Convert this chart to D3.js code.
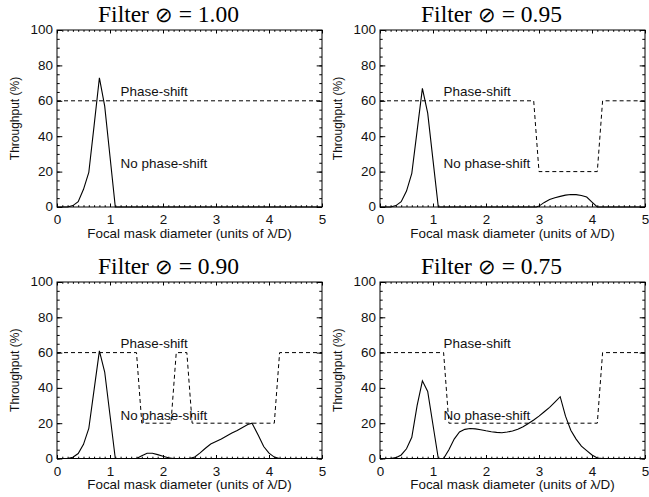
<!DOCTYPE html>
<html><head><meta charset="utf-8">
<script src="https://cdn.jsdelivr.net/npm/d3@7"></script>
<style>
body{margin:0;background:#fff}
svg{display:block}
.tick line{stroke:#000}
.domain{stroke:none}
</style>
</head><body>
<svg id="chart" width="649" height="497"></svg>
<script>
// Filter diameters shown in each panel title
const filterLabels = ["1.00", "0.95", "0.90", "0.75"];

// Throughput (%) vs focal mask diameter (λ/D), solid curves
const throughput100 = [[0,0],[0.2,0],[0.3,0.8],[0.4,3],[0.5,10],[0.6,19.5],[0.7,46],[0.8,73],[0.9,57],[1.0,28.5],[1.1,0],[5,0]];
const throughput095 = [[0,0],[0.2,0],[0.3,0.8],[0.4,3],[0.5,9],[0.6,19],[0.7,43],[0.8,67],[0.9,53],[1.0,26.5],[1.1,0],[2.95,0],[3.0,0.5],[3.1,2.6],[3.2,4.2],[3.3,5.2],[3.4,6],[3.5,6.7],[3.6,7.1],[3.7,7],[3.8,6.5],[3.9,5.6],[4.0,2.8],[4.1,0],[5,0]];
const throughput090 = [[0,0],[0.2,0],[0.3,0.7],[0.4,2.8],[0.5,8],[0.6,17],[0.7,39],[0.8,61],[0.9,49],[1.0,24.5],[1.1,0],[1.5,0],[1.6,1.6],[1.7,3],[1.8,3],[1.9,2.2],[2.0,1.3],[2.1,0.4],[2.2,0],[2.5,0],[2.6,0.9],[2.7,3.2],[2.8,5.8],[2.9,8.2],[3.0,9.6],[3.1,11],[3.2,12.8],[3.3,14.4],[3.4,15.9],[3.5,17.6],[3.6,19.3],[3.68,20],[3.8,13],[3.9,6.8],[4.0,3],[4.1,0.8],[4.2,0],[5,0]];
const throughput075 = [[0,0],[0.2,0],[0.3,0.5],[0.4,2],[0.5,5.5],[0.6,12],[0.7,30],[0.8,44],[0.9,38],[1.0,19],[1.1,0],[1.2,0],[1.3,5],[1.4,11],[1.5,15],[1.6,16.5],[1.7,17],[1.8,16.8],[1.9,16.3],[2.0,15.7],[2.1,15.2],[2.2,14.8],[2.3,14.6],[2.4,15],[2.5,15.6],[2.6,16.6],[2.7,18],[2.8,19.8],[2.9,21.8],[3.0,24],[3.1,26.5],[3.2,29],[3.3,32],[3.4,35],[3.5,24],[3.6,16],[3.7,11],[3.8,7],[3.9,4.5],[4.0,2],[4.1,0.3],[4.2,0],[5,0]];

// Phase-shift / no phase-shift regime, dashed curves
const phase100 = [[0,60],[5,60]];
const phase095 = [[0,60],[2.9,60],[3.0,20],[4.1,20],[4.2,60],[5,60]];
const phase090 = [[0,60],[1.5,60],[1.6,20],[2.15,20],[2.25,60],[2.45,60],[2.55,20],[4.1,20],[4.2,60],[5,60]];
const phase075 = [[0,60],[1.2,60],[1.3,20],[4.1,20],[4.2,60],[5,60]];

// Axis ticks
const xMajorTicks = [0, 1, 2, 3, 4, 5];
const yMajorTicks = [0, 20, 40, 60, 80, 100];

const throughputSeries = [throughput100, throughput095, throughput090, throughput075];
const phaseSeries = [phase100, phase095, phase090, phase075];

const svg = d3.select("#chart");
const sans = "'Liberation Sans', Arial, Helvetica, sans-serif";
const serif = "'Liberation Serif', 'Times New Roman', Times, serif";
const wide = 1.12; // horizontal stretch of the sans labels

const panels = [
  {left: 57,  top: 30,  width: 265, height: 177},
  {left: 380, top: 30,  width: 265, height: 177},
  {left: 57,  top: 282, width: 265, height: 176.5},
  {left: 380, top: 282, width: 265, height: 176.5}
];

// horizontal label placed at (px, py), stretched sideways
function label(g, px, py, txt, size, anchor) {
  g.append("text")
    .attr("transform", `translate(${px},${py}) scale(${wide},1)`)
    .attr("text-anchor", anchor || "start")
    .attr("font-family", sans).attr("font-size", size).attr("fill", "#111")
    .text(txt);
}

panels.forEach((p, i) => {
  const g = svg.append("g").attr("transform", `translate(${p.left},${p.top})`);
  const x = d3.scaleLinear().domain([0, 5]).range([0, p.width]);
  const y = d3.scaleLinear().domain([0, 100]).range([p.height, 0]);

  const xMinor = d3.range(0, 50.5, 1).map(v => v / 10);
  const yMinor = d3.range(0, 101, 5);
  const xMaj = 3.5, xMin = 1.8, yMaj = 5.3, yMin = 2.7;

  // bottom axis with labels
  g.append("g").attr("transform", `translate(0,${p.height})`)
    .call(d3.axisBottom(x).tickValues(xMinor).tickSize(-xMin).tickSizeOuter(0).tickFormat(""));
  g.append("g").attr("class", "lab").attr("transform", `translate(0,${p.height})`)
    .call(d3.axisBottom(x).tickValues(xMajorTicks).tickSize(-xMaj).tickSizeOuter(0).tickPadding(8.8).tickFormat(d3.format("d")));
  // top axis
  g.append("g").call(d3.axisTop(x).tickValues(xMinor).tickSize(-xMin).tickSizeOuter(0).tickFormat(""));
  g.append("g").call(d3.axisTop(x).tickValues(xMajorTicks).tickSize(-xMaj).tickSizeOuter(0).tickFormat(""));
  // left axis with labels
  g.append("g").call(d3.axisLeft(y).tickValues(yMinor).tickSize(-yMin).tickSizeOuter(0).tickFormat(""));
  g.append("g").attr("class", "lab")
    .call(d3.axisLeft(y).tickValues(yMajorTicks).tickSize(-yMaj).tickSizeOuter(0).tickPadding(3.6).tickFormat(d3.format("d")));
  // right axis
  g.append("g").attr("transform", `translate(${p.width},0)`)
    .call(d3.axisRight(y).tickValues(yMinor).tickSize(-yMin).tickSizeOuter(0).tickFormat(""));
  g.append("g").attr("transform", `translate(${p.width},0)`)
    .call(d3.axisRight(y).tickValues(yMajorTicks).tickSize(-yMaj).tickSizeOuter(0).tickFormat(""));

  g.selectAll(".lab .tick text")
    .attr("font-family", sans).attr("font-size", 12).attr("fill", "#111")
    .attr("transform", `scale(${wide},1)`);

  // frame
  g.append("rect").attr("width", p.width).attr("height", p.height)
    .attr("fill", "none").attr("stroke", "#000").attr("stroke-width", 1);

  const line = d3.line().x(d => x(d[0])).y(d => y(d[1]));

  g.append("path").datum(phaseSeries[i]).attr("d", line)
    .attr("fill", "none").attr("stroke", "#000").attr("stroke-width", 1)
    .attr("stroke-dasharray", "4,3");
  g.append("path").datum(throughputSeries[i]).attr("d", line)
    .attr("fill", "none").attr("stroke", "#000").attr("stroke-width", 1.1);

  // regime annotations
  label(g, x(1.2), y(62.5), "Phase-shift", 12);
  label(g, x(1.2), y(22), "No phase-shift", 12);

  // titles, centred over the whole panel cell rather than the plot box
  const title = g.append("text").attr("x", p.width / 2 - 21).attr("y", -8)
    .attr("text-anchor", "middle").attr("font-family", serif).attr("font-size", 23.5).attr("fill", "#000");
  title.append("tspan").text("Filter ");
  title.append("tspan").attr("font-family", "'DejaVu Sans', sans-serif").attr("font-weight", 200)
    .attr("font-size", 21).text("\u2298");
  title.append("tspan").text(` = ${filterLabels[i]}`);

  label(g, p.width / 2, p.height + 30.5, "Focal mask diameter (units of \u03BB/D)", 12, "middle");
  g.append("text").attr("transform", `translate(-38,${p.height / 2}) rotate(-90) scale(1,${wide})`)
    .attr("text-anchor", "middle").attr("font-family", sans).attr("font-size", 12).attr("fill", "#111")
    .text("Throughput (%)");
});
</script>
</body></html>
